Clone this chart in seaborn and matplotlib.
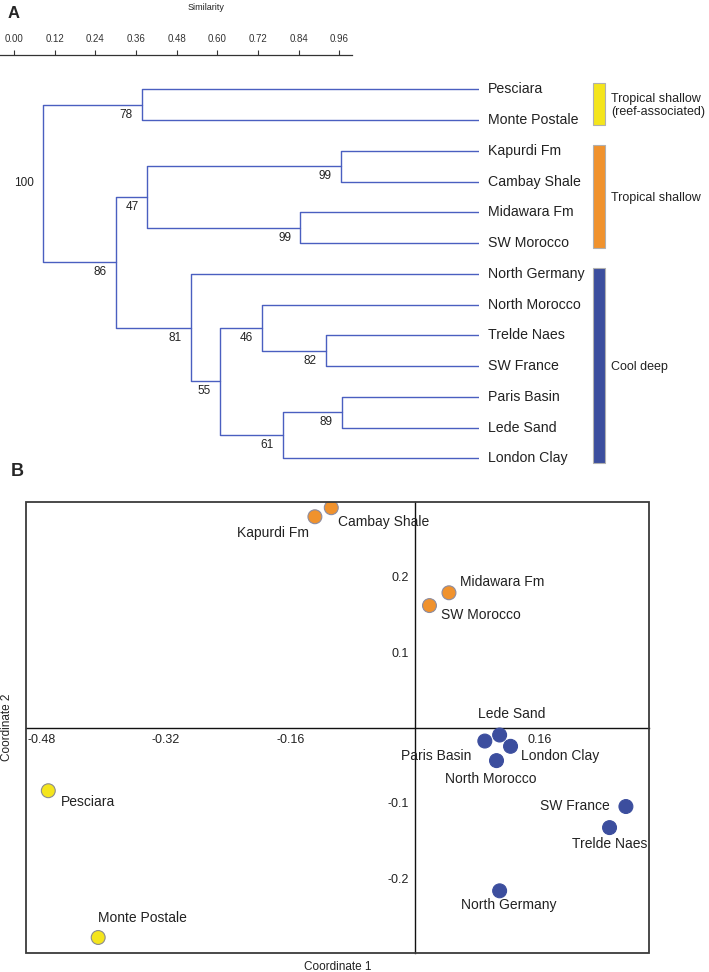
import numpy as np
import pandas as pd
import matplotlib
matplotlib.use("Agg")
import matplotlib.pyplot as plt
import seaborn as sns
from matplotlib.patches import Rectangle

# ---------------- data ----------------
sites = ["Pesciara", "Monte Postale", "Kapurdi Fm", "Cambay Shale", "Midawara Fm",
         "SW Morocco", "North Germany", "North Morocco", "Trelde Naes", "SW France",
         "Paris Basin", "Lede Sand", "London Clay"]
site_group = ["reef"] * 2 + ["tropical"] * 4 + ["cool"] * 7

# dendrogram merges (leaves 0-12, internal nodes numbered 13+ in order)
merge_left = [10, 13, 8, 7, 16, 6, 2, 4, 19, 21, 0, 23]
merge_right = [11, 12, 9, 15, 14, 17, 3, 5, 20, 18, 1, 22]
merge_similarity = [0.705, 0.578, 0.670, 0.534, 0.443, 0.380, 0.703, 0.616,
                    0.287, 0.219, 0.275, 0.063]
bootstrap = [89, 61, 82, 46, 55, 81, 99, 99, 47, 86, 78, 100]

similarity_ticks = [0.00, 0.12, 0.24, 0.36, 0.48, 0.60, 0.72, 0.84, 0.96]

groups = ["reef", "tropical", "cool"]
group_labels = ["Tropical shallow\n(reef-associated)", "Tropical shallow", "Cool deep"]
group_colors = ["#f4e51c", "#f0922d", "#3c4e9e"]
group_edges = ["#8c8c8c", "#8c8ca0", "#3c4e9e"]

# PCoA coordinates
coord1 = [-0.471, -0.407, -0.129, -0.108, 0.043, 0.018, 0.108, 0.104, 0.249,
          0.270, 0.089, 0.108, 0.122]
coord2 = [-0.084, -0.279, 0.280, 0.292, 0.179, 0.162, -0.217, -0.044, -0.133,
          -0.105, -0.018, -0.010, -0.025]
xticks_b = [-0.48, -0.32, -0.16, 0.16]
yticks_b = [-0.2, -0.1, 0.1, 0.2]

# ---------------- style ----------------
sns.set_style("white")
plt.rcParams["font.family"] = ["Liberation Sans", "DejaVu Sans"]
plt.rcParams["axes.unicode_minus"] = False

W, H = 709, 972
fig = plt.figure(figsize=(W / 100, H / 100), dpi=100)


def fx(px):
    return px / W


def fy(py):
    return 1 - py / H


LINE = "#4a5fc0"
TXT = "#222222"

# ---------------- panel A: dendrogram ----------------
axA = fig.add_axes([fx(14), fy(480), fx(465), 420 / H])
axA.set_xlim(0, 1)
axA.set_ylim(12.706, -0.953)
axA.axis("off")

xpos = {i: 1.0 for i in range(len(sites))}
ypos = {i: float(i) for i in range(len(sites))}
for k, (a, b, s) in enumerate(zip(merge_left, merge_right, merge_similarity)):
    node = len(sites) + k
    xpos[node] = s
    ypos[node] = (ypos[a] + ypos[b]) / 2
    axA.plot([s, s], [ypos[a], ypos[b]], color=LINE, lw=1.0, solid_capstyle="butt")
    axA.plot([s, xpos[a]], [ypos[a], ypos[a]], color=LINE, lw=1.0)
    axA.plot([s, xpos[b]], [ypos[b], ypos[b]], color=LINE, lw=1.0)
    is_root = k == len(merge_left) - 1
    axA.annotate(str(bootstrap[k]), (s, ypos[node]),
                 xytext=(-9, 0 if is_root else -10), textcoords="offset pixels",
                 ha="right", va="center", fontsize=8.5, color=TXT)

for i, name in enumerate(sites):
    axA.annotate(name, (1.0, i), xytext=(9, 0), textcoords="offset pixels",
                 ha="left", va="center", fontsize=10.2, color=TXT,
                 annotation_clip=False)

for g, lab, col in zip(groups, group_labels, group_colors):
    idx = [i for i, sg in enumerate(site_group) if sg == g]
    y0, y1 = min(idx) - 0.2, max(idx) + 0.15
    axA.add_patch(Rectangle((1.246, y0), 0.026, y1 - y0, facecolor=col,
                            edgecolor="#b0b0b0", lw=0.8, clip_on=False))
    axA.text(1.284, (y0 + y1) / 2 + 0.05, lab, ha="left", va="center",
             fontsize=9, color=TXT, linespacing=1.15, clip_on=False)

# similarity scale
axS = fig.add_axes([0, fy(65), fx(352), 10 / H])
axS.patch.set_visible(False)
axS.set_xlim(-0.0413, 0.997)
for sp in ["left", "right", "bottom"]:
    axS.spines[sp].set_visible(False)
axS.spines["top"].set_color("#333333")
axS.spines["top"].set_linewidth(0.9)
axS.xaxis.tick_top()
axS.set_xticks(similarity_ticks)
axS.set_xticklabels([f"{t:.2f}" for t in similarity_ticks])
axS.set_yticks([])
axS.tick_params(axis="x", direction="out", length=3.6, width=0.8,
                labelsize=7, pad=4, colors="#333333")
fig.text(fx(206), fy(7), "Similarity", ha="center", va="center", fontsize=6.5,
         color=TXT)

fig.text(fx(8), fy(13), "A", ha="left", va="center", fontsize=12,
         fontweight="bold")
fig.text(fx(11), fy(471), "B", ha="left", va="center", fontsize=13,
         fontweight="bold")

# ---------------- panel B: PCoA scatter ----------------
axB = fig.add_axes([fx(25.7), fy(953.3), fx(623.6), 451.6 / H])
df = pd.DataFrame({"site": sites, "coord1": coord1, "coord2": coord2,
                   "group": site_group})
pal = dict(zip(groups, group_colors))
sns.scatterplot(data=df, x="coord1", y="coord2", hue="group", palette=pal,
                s=100, linewidth=0.8, legend=False, ax=axB, zorder=3)
edge_map = dict(zip(groups, group_edges))
axB.collections[0].set_edgecolors([edge_map[g] for g in site_group])

axB.set_xlim(-0.5, 0.3)
axB.set_ylim(-0.3, 0.3)
axB.set_xlabel("")
axB.set_ylabel("")
axB.spines["left"].set_position(("data", 0))
axB.spines["bottom"].set_position(("data", 0))
axB.spines["top"].set_visible(False)
axB.spines["right"].set_visible(False)
for sp in ["left", "bottom"]:
    axB.spines[sp].set_color("#111111")
    axB.spines[sp].set_linewidth(1.0)
axB.add_patch(Rectangle((0, 0), 1, 1, transform=axB.transAxes, fill=False,
                        edgecolor="#3a3a3a", lw=1.3, clip_on=False, zorder=5))
axB.set_xticks(xticks_b)
axB.set_xticklabels([f"{t:.2f}" for t in xticks_b])
axB.set_yticks(yticks_b)
axB.set_yticklabels([f"{t:.1f}" for t in yticks_b])
axB.tick_params(direction="out", length=3, width=0.8, labelsize=9, pad=1.5,
                colors=TXT)

label_offsets = {
    "Pesciara": (13, -11, "left"),
    "Monte Postale": (0, 19, "left"),
    "Kapurdi Fm": (-6, -16, "right"),
    "Cambay Shale": (7, -14, "left"),
    "Midawara Fm": (11, 11, "left"),
    "SW Morocco": (12, -9, "left"),
    "Lede Sand": (12, 21, "center"),
    "Paris Basin": (-13, -15, "right"),
    "London Clay": (10, -10, "left"),
    "North Morocco": (-6, -18, "center"),
    "SW France": (-16, 1, "right"),
    "Trelde Naes": (0, -16, "center"),
    "North Germany": (9, -14, "center"),
}
for name, x, y in zip(sites, coord1, coord2):
    dx, dy, ha = label_offsets[name]
    axB.annotate(name, (x, y), xytext=(dx, dy), textcoords="offset pixels",
                 ha=ha, va="center", fontsize=10, color=TXT, zorder=4)

fig.text(fx(337.5), fy(967), "Coordinate 1", ha="center", va="center",
         fontsize=8.5, color=TXT)
fig.text(fx(7), fy(727.5), "Coordinate 2", ha="center", va="center",
         fontsize=8.5, rotation=90, color=TXT)

fig.savefig("out.png", dpi=100)
